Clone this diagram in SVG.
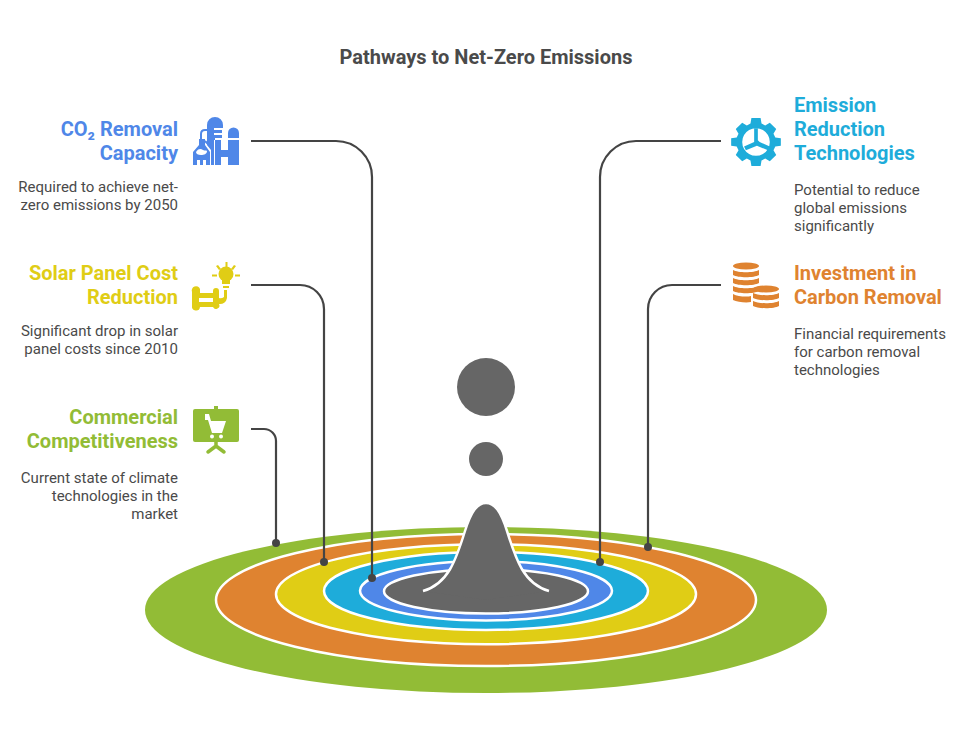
<svg xmlns="http://www.w3.org/2000/svg" width="972" height="737" viewBox="0 0 972 737">
<style>
text{font-family:Roboto,"Liberation Sans",sans-serif}
.t{font-size:20px;font-weight:700;text-anchor:end}
.tl{font-size:20px;font-weight:700}
.d{font-size:15px;fill:#4a4a4a;text-anchor:end}
.dl{font-size:15px;fill:#4a4a4a}
.ring{stroke:#fff;stroke-width:2.500}
.c{fill:none;stroke:#444;stroke-width:2.200}
.dot{fill:#444}
</style>
<rect width="972" height="737" fill="#fff"/>
<text x="486" y="64" font-size="20" font-weight="700" fill="#4a4a4a" text-anchor="middle" id="title">Pathways to Net-Zero Emissions</text>
<g id="rings">
<ellipse cx="486" cy="610" rx="341" ry="83" fill="#92bc36"/>
<ellipse class="ring" cx="486" cy="600" rx="270" ry="66" fill="#df8330"/>
<ellipse class="ring" cx="486" cy="594.200" rx="210" ry="50" fill="#e0cd15"/>
<ellipse class="ring" cx="486" cy="591" rx="162" ry="39" fill="#1eacda"/>
<ellipse class="ring" cx="486" cy="590.800" rx="126" ry="29.700" fill="#4f87e8"/>
<ellipse class="ring" cx="486" cy="591.200" rx="102" ry="22.300" fill="#666"/>
<path d="M423 591C448 584 456 560 465 531C471 512 477 503 486 503C495 503 501 512 507 531C516 560 524 584 549 591L486 600Z" fill="#666"/>
<path d="M423 591C448 584 456 560 465 531C471 512 477 503 486 503C495 503 501 512 507 531C516 560 524 584 549 591" fill="none" stroke="#fff" stroke-width="2.500"/>
<circle cx="486" cy="387" r="29" fill="#666"/>
<circle cx="486" cy="459" r="17" fill="#666"/>
</g>
<g id="connectors">
<path class="c" d="M251 141H336A36 36 0 0 1 372 177V578"/><circle class="dot" cx="372" cy="578" r="4"/>
<path class="c" d="M251 285H300A24 24 0 0 1 324 309V562"/><circle class="dot" cx="324" cy="562" r="4"/>
<path class="c" d="M251 429H264A12 12 0 0 1 276 441V543"/><circle class="dot" cx="276" cy="543" r="4"/>
<path class="c" d="M721 141H636A36 36 0 0 0 600 177V562"/><circle class="dot" cx="600" cy="562" r="4"/>
<path class="c" d="M721 285H672A24 24 0 0 0 648 309V547"/><circle class="dot" cx="648" cy="547" r="4"/>
</g>
<g id="node-co2" fill="#4f87e8">
<text class="t" x="178" y="136">CO₂ Removal</text>
<text class="t" x="178" y="160">Capacity</text>
<text class="d"><tspan x="178" y="192">Required to achieve net-</tspan><tspan x="178" y="210">zero emissions by 2050</tspan></text>
<path d="M207 131V125A8 8 0 0 1 223 125V128H214V130H222V133H214V135H222V138H215V140H207Z"/>
<path d="M228 138V133A5.500 5.500 0 0 1 239 133V138Z"/>
<path d="M215 140H221V150H228V140H239V165H228V157H221V165H215Z"/>
<path d="M207 140H214V165H211V150L207 145Z"/>
<path d="M199 139H205V145L210 152V165H206V160H203V165H200V160H197V165H193V152L199 145Z"/>
<path d="M196 152C199 148 201 149 203 150C205 151 206 150 207 151C207 154 204 155 201 155C198 155 196 154 196 152Z" fill="#fff"/>
<path d="M201 139V134Q201 130 205 130H207M205 141L211 147" fill="none" stroke="#4f87e8" stroke-width="2"/>
</g>
<g id="node-solar" fill="#e0cd15">
<text class="t" x="178" y="280">Solar Panel Cost</text>
<text class="t" x="178" y="304">Reduction</text>
<text class="d"><tspan x="178" y="336">Significant drop in solar</tspan><tspan x="178" y="354">panel costs since 2010</tspan></text>
<circle cx="226" cy="274" r="7.500"/>
<path d="M222 279H230V284H222ZM223 286H229V288H223Z"/>
<path d="M225.500 262h2v5h-2zM212 274.500h5v2h-5zM235 274.500h5v2h-5z"/>
<path d="M216 266l2-1 3 4-2 1zM236 266l-2-1-3 4 2 1z"/>
<path d="M192 292A4 4 0 0 1 200 289V293H213V291A3 3 0 0 1 219 291V298A6 6 0 0 0 224 297V290H227V298A7 7 0 0 1 219 304A3 3 0 0 1 213 307H200A4 4 0 0 1 192 306ZM199 298V302H213V298Z" fill-rule="evenodd"/>
</g>
<g id="node-market" fill="#92bc36">
<text class="t" x="178" y="424">Commercial</text>
<text class="t" x="178" y="448">Competitiveness</text>
<text class="d"><tspan x="178" y="483">Current state of climate</tspan><tspan x="178" y="501">technologies in the</tspan><tspan x="178" y="519">market</tspan></text>
<rect x="193" y="409" width="46" height="33" rx="2"/>
<path d="M214 406h4v4h-4z"/>
<path d="M205 414H209L211 421H226L222 433H212L208 420H205Z" fill="#fff"/>
<circle cx="212" cy="436.500" r="2" fill="#fff"/><circle cx="221" cy="436.500" r="2" fill="#fff"/>
<path d="M216 442V446L208 452M216 446L224 452" fill="none" stroke="#92bc36" stroke-width="3.500" stroke-linecap="round"/>
</g>
<g id="node-tech" fill="#1eacda">
<text class="tl" x="794" y="112">Emission</text>
<text class="tl" x="794" y="136">Reduction</text>
<text class="tl" x="794" y="160">Technologies</text>
<text class="dl"><tspan x="794" y="195">Potential to reduce</tspan><tspan x="794" y="213">global emissions</tspan><tspan x="794" y="231">significantly</tspan></text>
<g transform="translate(756 142) scale(.92) translate(-756 -142)">
<path fill-rule="evenodd" d="M751 116h10l1 6 4 2 5-3 7 7-3 5 2 4 6 1v8l-6 1-2 4 3 5-7 7-5-3-4 2-1 6h-10l-1-6-4-2-5 3-7-7 3-5-2-4-6-1v-8l6-1 2-4-3-5 7-7 5 3 4-2ZM756 127a15 15 0 1 0 .01 0Z"/>
<path d="M754 127h4v13l2 2 11 5-2 4-12-5-12 5-2-4 11-5 0-2Z"/>
</g>
</g>
<g id="node-invest" fill="#df8330">
<text class="tl" x="794" y="280">Investment in</text>
<text class="tl" x="794" y="304">Carbon Removal</text>
<text class="dl"><tspan x="794" y="339">Financial requirements</tspan><tspan x="794" y="357">for carbon removal</tspan><tspan x="794" y="375">technologies</tspan></text>
<ellipse cx="746" cy="266" rx="13" ry="3.500"/>
<path d="M733 270c5 3 21 3 26 0v5c-5 3-21 3-26 0zM733 278c5 3 21 3 26 0v5c-5 3-21 3-26 0zM733 286c5 3 21 3 26 0v5c-5 3-21 3-26 0zM733 294c5 3 15 3 18 2v6c-5 1-14 0-18-2z"/>
<ellipse cx="766" cy="289" rx="13" ry="3.500"/>
<path d="M753 293c5 3 21 3 26 0v5c-5 3-21 3-26 0zM753 301c5 3 21 3 26 0v5c-5 3-21 3-26 0z"/>
</g>
</svg>
